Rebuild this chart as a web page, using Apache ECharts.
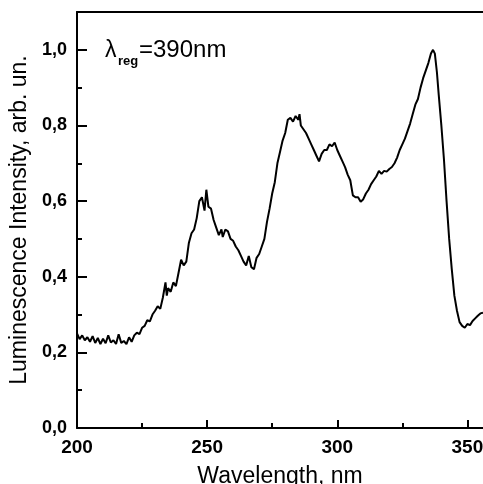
<!DOCTYPE html>
<html>
<head>
<meta charset="utf-8">
<script src="https://cdn.jsdelivr.net/npm/echarts@6/dist/echarts.min.js"></script>
<style>
html,body{margin:0;padding:0;background:#fff;}
#c{width:483px;height:484px;}
</style>
</head>
<body>
<div id="c"></div>
<script>
// Wavelength, nm
const wavelength = [200,201,202,203,204,205,206,207,208,209,210,211,212,213,214,215,216,217,218,219,220,221,222,223,224,225,226,227,228,229,230,231,232,233,234,234.5,235,236,237,238,239,240,241,242,243,244,245,246,247,248,249,249.7,250.5,251.5,252.5,253.5,254.5,255.5,256,257,258,259,260,261,262,263,264,265,266,267,268,269,270,271,272,273,274,275,276,277,278,279,280,281,282,283,284,285,285.5,286,287,288,289,290,291,292,293,294,295,296,297,298,299,300,301,302,303,304,305,306,307,308,309,310,311,312,313,314,315,316,317,318,319,320,321,322,323,324,325,326,327,328,329,330,331,332,333,334,335,336,336.8,337.5,338.3,339,340,341,342,343,344,345,346,347,348,349,350,351,352,353,354,355,356];
// Luminescence intensity, arb. un.
const intensity = [0.25,0.235,0.245,0.232,0.24,0.228,0.243,0.225,0.238,0.222,0.236,0.224,0.245,0.226,0.232,0.222,0.248,0.225,0.23,0.222,0.24,0.228,0.245,0.252,0.248,0.265,0.27,0.285,0.282,0.3,0.31,0.322,0.315,0.345,0.385,0.35,0.37,0.36,0.385,0.375,0.41,0.445,0.43,0.44,0.49,0.515,0.525,0.555,0.6,0.61,0.575,0.63,0.585,0.58,0.55,0.53,0.51,0.525,0.505,0.525,0.52,0.5,0.495,0.48,0.47,0.455,0.44,0.43,0.455,0.425,0.42,0.45,0.46,0.48,0.5,0.545,0.58,0.62,0.65,0.7,0.73,0.76,0.78,0.815,0.82,0.81,0.825,0.815,0.83,0.8,0.79,0.78,0.765,0.75,0.735,0.72,0.705,0.725,0.735,0.735,0.75,0.745,0.755,0.735,0.72,0.705,0.69,0.67,0.655,0.615,0.61,0.61,0.598,0.605,0.62,0.63,0.645,0.655,0.665,0.68,0.672,0.68,0.678,0.685,0.69,0.7,0.715,0.735,0.75,0.765,0.785,0.805,0.83,0.855,0.87,0.9,0.925,0.945,0.965,0.99,1.0,0.99,0.94,0.88,0.8,0.71,0.6,0.5,0.42,0.35,0.31,0.28,0.27,0.265,0.275,0.272,0.283,0.29,0.297,0.303,0.305];
const xMajorTicks = [200,250,300,350];
const xMinorTicks = [225,275,325];
const yMajorTicks = [0,0.2,0.4,0.6,0.8,1.0];
const yMinorTicks = [0.1,0.3,0.5,0.7,0.9];

const FONT = 'Liberation Sans, Arial, sans-serif';
const chart = echarts.init(document.getElementById('c'), null, {renderer:'canvas'});
const pts = wavelength.map((w,i)=>[w,intensity[i]]);
const xMin = 200, xMax = 356, yMin = 0, yMax = 1.1;
const lineStyle = {color:'#000', width:2};

chart.setOption({
  animation:false,
  backgroundColor:'#fff',
  grid:{left:77, right:0, top:12, bottom:56, containLabel:false, outerBoundsMode:'none'},
  xAxis:[
    {type:'value', position:'bottom', min:xMin, max:xMax, interval:50,
     axisLine:{show:true, onZero:false, lineStyle:lineStyle},
     axisTick:{show:true, inside:true, length:8, customValues:xMajorTicks, lineStyle:{color:'#000', width:2}},
     axisLabel:{show:true, customValues:xMajorTicks, margin:10, color:'#000', fontFamily:FONT, fontWeight:'bold', fontSize:19},
     splitLine:{show:false},
     name:'Wavelength, nm', nameLocation:'middle', nameGap:37,
     nameTextStyle:{color:'#000', fontFamily:FONT, fontSize:23}},
    {type:'value', position:'bottom', min:xMin, max:xMax,
     axisLine:{show:false, onZero:false},
     axisTick:{show:true, inside:true, length:5, customValues:xMinorTicks, lineStyle:{color:'#000', width:2}},
     axisLabel:{show:false}, splitLine:{show:false}},
    {type:'value', position:'top', min:xMin, max:xMax,
     axisLine:{show:true, onZero:false, lineStyle:lineStyle},
     axisTick:{show:false}, axisLabel:{show:false}, splitLine:{show:false}}
  ],
  yAxis:[
    {type:'value', position:'left', min:yMin, max:yMax, interval:0.2,
     axisLine:{show:true, onZero:false, lineStyle:lineStyle},
     axisTick:{show:true, inside:true, length:10, customValues:yMajorTicks, lineStyle:{color:'#000', width:2}},
     axisLabel:{show:true, customValues:yMajorTicks, margin:10, color:'#000', fontFamily:FONT, fontWeight:'bold', fontSize:18,
       formatter:v=>v.toFixed(1).replace('.',',')},
     splitLine:{show:false},
     name:'Luminescence Intensity, arb. un.', nameLocation:'middle', nameGap:43, nameRotate:90,
     nameTextStyle:{color:'#000', fontFamily:FONT, fontSize:23}},
    {type:'value', position:'left', min:yMin, max:yMax,
     axisLine:{show:false, onZero:false},
     axisTick:{show:true, inside:true, length:5, customValues:yMinorTicks, lineStyle:{color:'#000', width:2}},
     axisLabel:{show:false}, splitLine:{show:false}}
  ],
  graphic:[
    {type:'text', left:105, top:39, style:{text:'λ', font:'23px '+FONT, fill:'#000'}},
    {type:'text', left:118, top:55, style:{text:'reg', font:'bold 13px '+FONT, fill:'#000'}},
    {type:'text', left:139, top:38, style:{text:'=390nm', font:'24px '+FONT, fill:'#000'}}
  ],
  series:[{
    type:'line', xAxisIndex:0, yAxisIndex:0, data:pts,
    showSymbol:false, symbol:'none', smooth:false,
    lineStyle:{color:'#000', width:2}, silent:true
  }]
});
</script>
</body>
</html>
